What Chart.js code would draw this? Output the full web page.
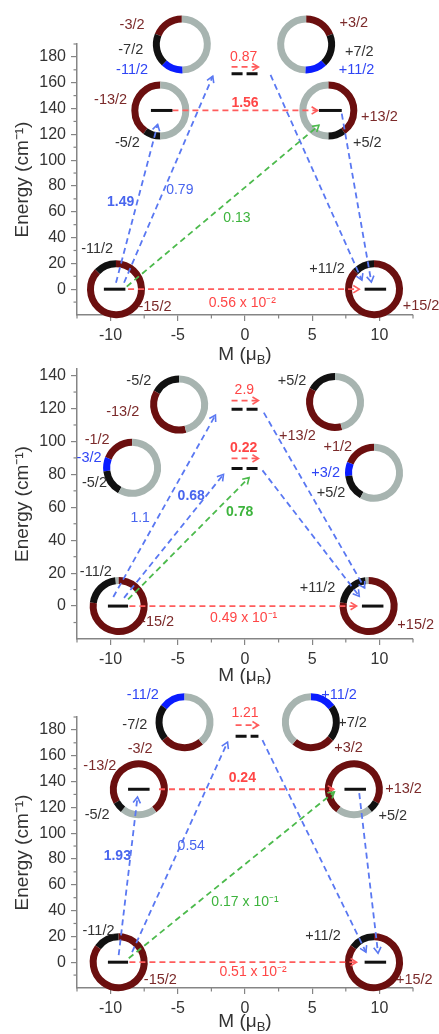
<!DOCTYPE html>
<html>
<head>
<meta charset="utf-8">
<script src="https://cdn.jsdelivr.net/npm/chart.js@4.4.1/dist/chart.umd.min.js"></script>
<style>
  html, body { margin: 0; padding: 0; background: #fff; }
  #wrap { position: relative; width: 439px; height: 1034px; overflow: hidden; }
  canvas { position: absolute; left: 0; }
</style>
</head>
<body>
<div id="wrap">
  <canvas id="c1" width="439" height="368" style="top:0"></canvas>
  <canvas id="c2" width="439" height="316" style="top:368px"></canvas>
  <canvas id="c3" width="439" height="350" style="top:684px"></canvas>
</div>
<script>
// Axis ticks
const xTicks = [-10, -5, 0, 5, 10];
const xMinor = [-12.5, -7.5, -2.5, 2.5, 7.5, 12.5];
const yTicksA = [0, 20, 40, 60, 80, 100, 120, 140, 160, 180];
const yMinorA = [-10, 10, 30, 50, 70, 90, 110, 130, 150, 170, 190];
const yTicksB = [0, 20, 40, 60, 80, 100, 120, 140];
const yMinorB = [-10, 10, 30, 50, 70, 90, 110, 130];

// ---- top panel ----
// level bars: [M from, M to, E (cm-1)]
const barsA = [[-10.5, -8.9, 0], [8.9, 10.5, 0], [-7.0, -5.4, 138.5], [5.5, 7.2, 138.5], [-1.0, 1.0, 167]];
// rings: [centre M, centre E, composition [mJ, %, colour]]
const ringsA = [
  [-9.6, 0, [['-11/2', 13, 'k'], ['-15/2', 87, 'r']]],
  [9.6, 0, [['+11/2', 13, 'k'], ['+15/2', 87, 'r']]],
  [-6.3, 138.5, [['-13/2', 40, 'r'], ['-5/2', 10, 'k'], [null, 50, 'g']]],
  [6.2, 138.5, [['+13/2', 40, 'r'], ['+5/2', 10, 'k'], [null, 50, 'g']]],
  [-4.7, 189.7, [['-3/2', 19, 'r'], ['-7/2', 19, 'k'], ['-11/2', 12.5, 'b'], [null, 49.5, 'g']]],
  [4.55, 189.7, [['+3/2', 19, 'r'], ['+7/2', 19, 'k'], ['+11/2', 12.5, 'b'], [null, 49.5, 'g']]]
];
// transitions: [M1, E1, M2, E2, kind, matrix element]
const movesA = [
  [-8.7, 0, 8.5, 0, 'red', '0.56 x 10\u207B\u00B2'],
  [-5.4, 138.5, 5.4, 138.5, 'red', '1.56'],
  [-1.0, 172.2, 1.0, 172.2, 'red', '0.87'],
  [-9.6, 5, -6.5, 127.6, 'blue', '1.49'],
  [-9.0, 5, -2.4, 165, 'blue', '0.79'],
  [-8.8, 2, 5.5, 127, 'green', '0.13'],
  [1.9, 166, 8.7, 7, 'blue', null],
  [7.2, 136, 9.4, 5.5, 'blue', null]
];

// ---- middle panel ----
const barsB = [[-10.2, -8.7, 0], [8.7, 10.3, 0], [-1.0, 1.0, 83.6], [-1.0, 1.0, 119.5]];
const ringsB = [
  [-9.4, 0, [[null, 2, 'g'], ['-11/2', 21, 'k'], ['-15/2', 77, 'r']]],
  [9.2, 0, [[null, 2, 'g'], ['+11/2', 21, 'k'], ['+15/2', 77, 'r']]],
  [-8.4, 84, [['-1/2', 19, 'r'], ['-3/2', 8, 'b'], ['-5/2', 15, 'k'], [null, 58, 'g']]],
  [9.6, 81, [['+1/2', 19, 'r'], ['+3/2', 8, 'b'], ['+5/2', 15, 'k'], [null, 58, 'g']]],
  [-4.9, 122.4, [['-5/2', 17, 'k'], ['-13/2', 37, 'r'], [null, 46, 'g']]],
  [6.7, 124, [['+5/2', 17, 'k'], ['+13/2', 37, 'r'], [null, 46, 'g']]]
];
const movesB = [
  [-8.6, 0, 8.3, 0, 'red', '0.49 x 10\u207B\u00B9'],
  [-1.0, 124.8, 1.0, 124.8, 'red', '2.9'],
  [-1.0, 89.7, 1.0, 89.7, 'red', '0.22'],
  [-9.8, 5.5, -2.2, 116, 'blue', '1.1'],
  [-9.0, 5, -1.6, 80, 'blue', '0.68'],
  [-8.7, 4, 0.3, 78, 'green', '0.78'],
  [1.4, 117.5, 8.9, 11, 'blue', null],
  [1.3, 82.4, 8.5, 6, 'blue', null]
];

// ---- bottom panel ----
const barsC = [[-10.2, -8.7, 0], [8.9, 10.5, 0], [-8.7, -7.1, 134], [7.4, 9.0, 134], [-0.7, 1.0, 175]];
const ringsC = [
  [-9.4, 0, [['-11/2', 15, 'k'], ['-15/2', 85, 'r']]],
  [9.6, 0, [['+11/2', 15, 'k'], ['+15/2', 85, 'r']]],
  [-7.9, 134, [['-13/2', 73, 'r'], [null, 21, 'g'], ['-5/2', 6, 'k']]],
  [8.1, 134, [['+13/2', 73, 'r'], [null, 21, 'g'], ['+5/2', 6, 'k']]],
  [-4.5, 186, [['-11/2', 15, 'b'], ['-7/2', 21, 'k'], ['-3/2', 25, 'r'], [null, 39, 'g']]],
  [4.9, 186, [['+11/2', 15, 'b'], ['+7/2', 21, 'k'], ['+3/2', 25, 'r'], [null, 39, 'g']]]
];
const movesC = [
  [-8.6, 0, 8.3, 0, 'red', '0.51 x 10\u207B\u00B2'],
  [-6.4, 134, 6.6, 134, 'red', '0.24'],
  [-0.7, 183.7, 1.0, 183.7, 'red', '1.21'],
  [-9.4, 5.4, -8.0, 128, 'blue', '1.93'],
  [-8.4, 7.8, -1.3, 170.5, 'blue', '0.54'],
  [-8.65, 3, 6.65, 132, 'green', '0.17 x 10\u207B\u00B9'],
  [1.3, 172, 9.0, 7.8, 'blue', null],
  [8.5, 131, 9.9, 7, 'blue', null]
];

// placement of rings (start hour, direction) and their labels, in data units
const ringLookA = [
  [12, -1, [[-11.0, 31], [-6.7, -14]]],
  [12, -1, [[6.1, 16], [13.1, -13]]],
  [12, -1, [[-10.0, 146.7], [-8.75, 113]]],
  [12, 1, [[10.0, 133.5], [9.1, 113]]],
  [12, -1, [[-8.4, 204.8], [-8.5, 185.4], [-8.4, 170]]],
  [12, 1, [[8.1, 206], [8.5, 184], [8.3, 170]]]
];
const ringLookB = [
  [12, -1, [[-11.1, 20.6], [-6.5, -9.7]]],
  [12, -1, [[5.4, 11], [12.7, -11.5]]],
  [12, -1, [[-11.0, 100.6], [-11.6, 89.7], [-11.2, 74.5]]],
  [12, -1, [[6.9, 96.4], [6.0, 81], [6.4, 68.5]]],
  [12, -1, [[-7.9, 137], [-9.1, 118]]],
  [12, -1, [[3.5, 137], [3.9, 103.6]]]
];
const ringLookC = [
  [12, -1, [[-10.9, 24], [-6.3, -14]]],
  [12, -1, [[5.8, 20], [12.6, -14]]],
  [8, 1, [[-10.8, 152], [-11.0, 114]]],
  [4, -1, [[11.8, 134], [11.0, 113]]],
  [12, -1, [[-7.6, 207], [-8.2, 183.7], [-7.8, 165]]],
  [12, 1, [[7.0, 207], [8.0, 185], [7.7, 166]]]
];
// transition label spots [M, E, bold]
const moveTextA = [[-0.2, -11, 0], [0, 144, 1], [-0.1, 179.5, 0], [-9.25, 67.4, 1], [-4.85, 77, 0], [-0.6, 55, 0]];
const moveTextB = [[-0.1, -7.3, 0], [-0.05, 131, 0], [-0.1, 95.8, 1], [-7.8, 53.3, 0], [-4.0, 66.7, 1], [-0.4, 57, 1]];
const moveTextC = [[0.6, -7.8, 0], [-0.2, 142.6, 1], [0.0, 193, 0], [-9.5, 82, 1], [-4.0, 90, 0], [0, 46.5, 0]];

const FONT = "'Liberation Sans', Arial, Helvetica, sans-serif";
const AXIS = '#858585';
const RING = { r: '#6b0f0f', k: '#111111', b: '#0a1cff', g: '#a7b4b0' };
const RING_TXT = { r: '#7b2a2a', k: '#333333', b: '#2f45f5' };
const LINE = { red: '#ff5c5c', blue: '#5a78f2', green: '#4cba4c' };
const LINE_TXT = { red: '#ff4646', blue: '#4865ee', green: '#3db43d' };

function buildDatasets(bars, moves) {
  const ds = [];
  bars.forEach(b => {
    const cross = b[0] < 0 && b[1] > 0;
    ds.push({
      data: [{ x: b[0], y: b[2] }, { x: b[1], y: b[2] }],
      showLine: true, borderColor: '#111', borderWidth: 3,
      borderDash: cross ? [11, 4] : [], borderCapStyle: 'butt',
      pointRadius: 0, clip: false
    });
  });
  moves.forEach(m => {
    ds.push({
      data: [{ x: m[0], y: m[1] }, { x: m[2], y: m[3] }],
      showLine: true, borderColor: LINE[m[4]], borderWidth: 1.8,
      borderDash: [6, 4], pointRadius: 0, clip: false, arrow: true
    });
  });
  return ds;
}

function panel(id, o) {
  const extras = {
    id: 'extras',
    beforeDatasetsDraw(chart) {
      const { ctx, scales: { x, y } } = chart;
      ctx.save();
      ctx.lineWidth = 7;
      ctx.lineCap = 'butt';
      o.rings.forEach((r, i) => {
        const look = o.look[i];
        const cx = x.getPixelForValue(r[0]), cy = y.getPixelForValue(r[1]);
        const dir = look[1];
        let a = -Math.PI / 2 + look[0] / 12 * 2 * Math.PI;
        r[2].forEach(p => {
          const sweep = p[1] / 100 * 2 * Math.PI * dir;
          ctx.beginPath();
          ctx.strokeStyle = RING[p[2]];
          ctx.arc(cx, cy, 25.5, a, a + sweep, dir < 0);
          ctx.stroke();
          a += sweep;
        });
      });
      ctx.restore();
    },
    afterDatasetsDraw(chart) {
      // open arrow heads
      const ctx = chart.ctx;
      ctx.save();
      ctx.lineWidth = 1.6;
      chart.data.datasets.forEach((d, i) => {
        if (!d.arrow) return;
        const pts = chart.getDatasetMeta(i).data;
        const p1 = pts[0], p2 = pts[1];
        const ang = Math.atan2(p2.y - p1.y, p2.x - p1.x);
        ctx.strokeStyle = d.borderColor;
        ctx.beginPath();
        ctx.moveTo(p2.x - 7 * Math.cos(ang - 0.55), p2.y - 7 * Math.sin(ang - 0.55));
        ctx.lineTo(p2.x, p2.y);
        ctx.lineTo(p2.x - 7 * Math.cos(ang + 0.55), p2.y - 7 * Math.sin(ang + 0.55));
        ctx.stroke();
      });
      ctx.restore();
    },
    afterDraw(chart) {
      const { ctx, chartArea: area, scales: { x, y } } = chart;
      ctx.save();
      // minor ticks
      ctx.strokeStyle = AXIS;
      ctx.lineWidth = 1.2;
      xMinor.forEach(v => {
        const px = x.getPixelForValue(v);
        ctx.beginPath(); ctx.moveTo(px, area.bottom); ctx.lineTo(px, area.bottom + 3.5); ctx.stroke();
      });
      o.yMinor.forEach(v => {
        const py = y.getPixelForValue(v);
        ctx.beginPath(); ctx.moveTo(area.left, py); ctx.lineTo(area.left - 3.5, py); ctx.stroke();
      });
      // mJ labels around the rings
      ctx.textAlign = 'center';
      ctx.textBaseline = 'middle';
      ctx.font = '14.5px ' + FONT;
      o.rings.forEach((r, i) => {
        let k = 0;
        r[2].forEach(p => {
          if (!p[0]) return;
          const spot = o.look[i][2][k++];
          ctx.fillStyle = RING_TXT[p[2]];
          ctx.fillText(p[0], x.getPixelForValue(spot[0]), y.getPixelForValue(spot[1]));
        });
      });
      // matrix element labels
      o.moves.forEach((m, i) => {
        if (!m[5]) return;
        const spot = o.moveText[i];
        ctx.font = (spot[2] ? 'bold ' : '') + '14px ' + FONT;
        ctx.fillStyle = LINE_TXT[m[4]];
        ctx.fillText(m[5], x.getPixelForValue(spot[0]), y.getPixelForValue(spot[1]));
      });
      // x title with subscript
      const cx = (area.left + area.right) / 2, ty = area.bottom + o.titleGap;
      ctx.fillStyle = '#333';
      ctx.textAlign = 'left';
      ctx.font = '19px ' + FONT;
      const w1 = ctx.measureText('M (\u03BC').width, w3 = ctx.measureText(')').width;
      ctx.font = '13px ' + FONT;
      const w2 = ctx.measureText('B').width;
      let tx = cx - (w1 + w2 + w3) / 2;
      ctx.font = '19px ' + FONT;
      ctx.fillText('M (\u03BC', tx, ty);
      ctx.font = '13px ' + FONT;
      ctx.fillText('B', tx + w1, ty + 5);
      ctx.font = '19px ' + FONT;
      ctx.fillText(')', tx + w1 + w2, ty);
      ctx.restore();
    }
  };

  new Chart(document.getElementById(id), {
    type: 'scatter',
    data: { datasets: buildDatasets(o.bars, o.moves) },
    options: {
      responsive: false,
      animation: false,
      events: [],
      layout: { padding: { top: o.top, right: 26, left: 0, bottom: 0 } },
      plugins: { legend: { display: false }, tooltip: { enabled: false } },
      scales: {
        x: {
          type: 'linear', min: -12.5, max: 12.5,
          afterBuildTicks: s => { s.ticks = xTicks.map(v => ({ value: v })); },
          afterFit: s => { s.height = o.xh; s.paddingLeft = 0; s.paddingRight = 0; },
          grid: { drawOnChartArea: false, tickLength: 6, color: AXIS, lineWidth: 1.2 },
          border: { color: AXIS, width: 1.5 },
          ticks: { font: { size: 16, family: FONT }, color: '#333', padding: 5, maxRotation: 0, autoSkip: false }
        },
        y: {
          type: 'linear', min: -20, max: o.ymax,
          afterBuildTicks: s => { s.ticks = o.yTicks.map(v => ({ value: v })); },
          afterFit: s => { s.width = 77; s.paddingTop = 0; s.paddingBottom = 0; },
          grid: { drawOnChartArea: false, tickLength: 6, color: AXIS, lineWidth: 1.2 },
          border: { color: AXIS, width: 1.5 },
          ticks: { font: { size: 16, family: FONT }, color: '#333', padding: 5, autoSkip: false },
          title: {
            display: true, text: 'Energy (cm\u207B\u00B9)', color: '#333',
            font: { size: 19, family: FONT }, padding: { top: 11, bottom: 0 }
          }
        }
      }
    },
    plugins: [extras]
  });
}

panel('c1', { bars: barsA, rings: ringsA, look: ringLookA, moves: movesA, moveText: moveTextA,
  yTicks: yTicksA, yMinor: yMinorA, ymax: 190, top: 44, xh: 53, titleGap: 40 });
panel('c2', { bars: barsB, rings: ringsB, look: ringLookB, moves: movesB, moveText: moveTextB,
  yTicks: yTicksB, yMinor: yMinorB, ymax: 144, top: 1, xh: 45, titleGap: 37 });
panel('c3', { bars: barsC, rings: ringsC, look: ringLookC, moves: movesC, moveText: moveTextC,
  yTicks: yTicksA, yMinor: yMinorA, ymax: 190, top: 33, xh: 46, titleGap: 34 });
</script>
</body>
</html>
